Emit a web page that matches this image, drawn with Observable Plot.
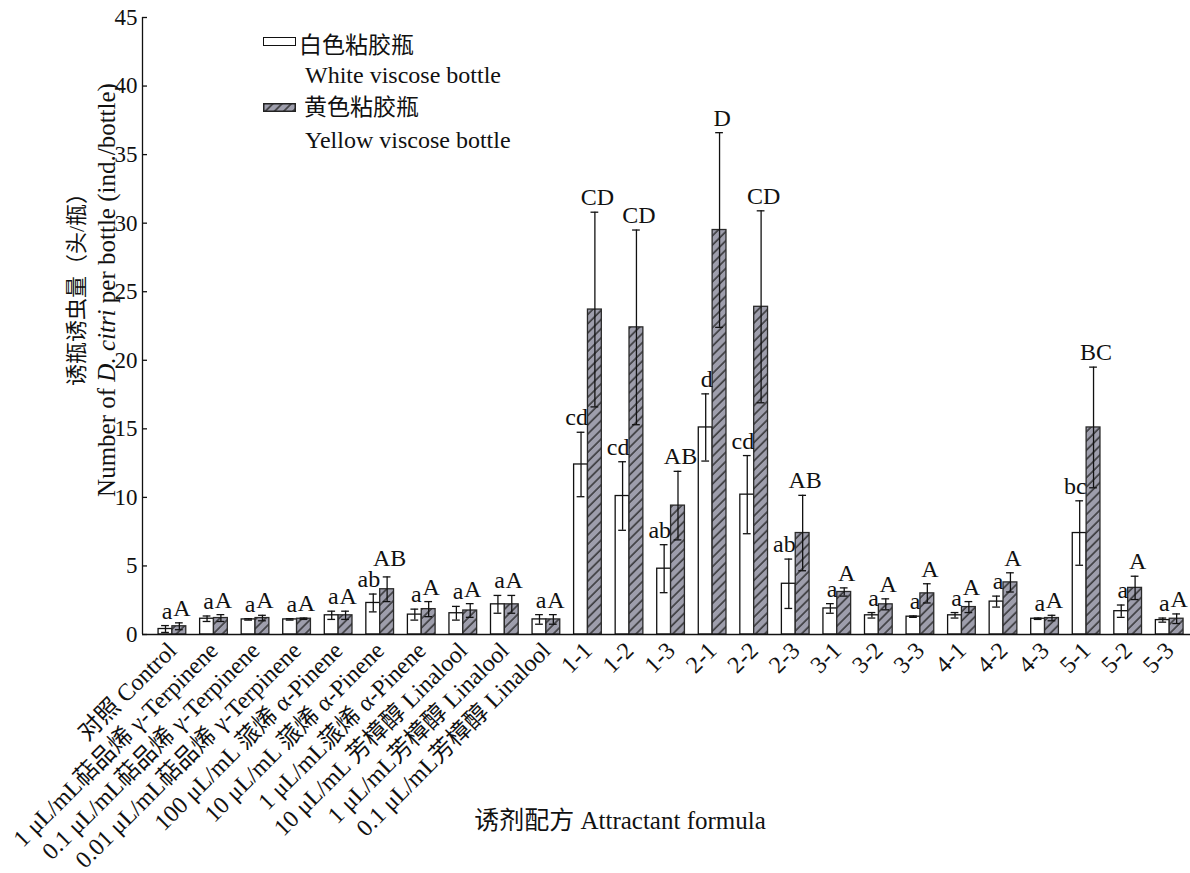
<!DOCTYPE html>
<html><head><meta charset="utf-8">
<script src="https://cdn.jsdelivr.net/npm/d3@7"></script>
<script src="https://cdn.jsdelivr.net/npm/@observablehq/plot@0.6"></script>
<style>
body{margin:0;background:#fff;overflow:hidden}
#wrap{position:relative;width:1190px;height:873px;font-family:"Liberation Serif","Noto Sans CJK SC",serif;color:#111}
.ov{position:absolute;white-space:nowrap;font-size:24px;line-height:1}
.rot{transform:translate(-50%,-50%) rotate(-90deg)}
</style></head><body><div id="wrap"></div>
<script>
const categories = [
  "对照 Control",
  "1 μL/mL萜品烯 γ-Terpinene",
  "0.1 μL/mL萜品烯 γ-Terpinene",
  "0.01 μL/mL萜品烯 γ-Terpinene",
  "100 μL/mL 蒎烯 α-Pinene",
  "10 μL/mL 蒎烯 α-Pinene",
  "1 μL/mL蒎烯 α-Pinene",
  "10 μL/mL 芳樟醇 Linalool",
  "1 μL/mL芳樟醇 Linalool",
  "0.1 μL/mL芳樟醇 Linalool",
  "1-1","1-2","1-3","2-1","2-2","2-3","3-1","3-2","3-3","4-1","4-2","4-3","5-1","5-2","5-3"
];
const whiteMean = [0.4,1.15,1.1,1.1,1.4,2.3,1.45,1.55,2.2,1.1,12.4,10.1,4.8,15.1,10.2,3.7,1.9,1.4,1.3,1.4,2.4,1.15,7.4,1.7,1.05];
const whiteSE   = [0.25,0.2,0.05,0.05,0.3,0.65,0.4,0.5,0.65,0.35,2.35,2.5,1.75,2.45,2.85,1.8,0.35,0.2,0.05,0.2,0.4,0.05,2.35,0.45,0.15];
const yellowMean = [0.6,1.2,1.2,1.15,1.4,3.3,1.85,1.75,2.2,1.1,23.7,22.4,9.4,29.5,23.9,7.4,3.1,2.2,3.0,2.0,3.8,1.2,15.1,3.4,1.15];
const yellowSE   = [0.25,0.25,0.2,0.05,0.3,0.9,0.55,0.5,0.65,0.35,7.1,7.1,2.5,7.1,7.0,2.75,0.3,0.4,0.7,0.4,0.7,0.2,4.4,0.85,0.35];
const whiteLetters  = ["a","a","a","a","a","ab","a","a","a","a","cd","cd","ab","d","cd","ab","a","a","a","a","a","a","bc","a","a"];
const yellowLetters = ["A","A","A","A","A","AB","A","A","A","A","CD","CD","AB","D","CD","AB","A","A","A","A","A","A","BC","A","A"];
const yTicks = [0,5,10,15,20,25,30,35,40,45];

// each group: white bar in [3i, 3i+1], yellow bar in [3i+1, 3i+2], one bar-width gap
const groupStride = 3;
const xDomain = [-1.16, 74.5];

const rows = categories.map((c,i)=>{
  const x0 = groupStride*i;
  const wTop = whiteMean[i] + whiteSE[i];
  const yTop = yellowMean[i] + yellowSE[i];
  return {cat:c, i, x0, wMean:whiteMean[i], wSE:whiteSE[i], yMean:yellowMean[i], ySE:yellowSE[i],
    wTop, yTop, wLetter:whiteLetters[i], yLetter:yellowLetters[i],
    // keep the upper-case label clear of a two-letter lower-case label next to it
    yLabelY: whiteLetters[i].length > 1 ? Math.max(yTop, wTop + 1.5) : yTop};
});

const font = '"Liberation Serif","Noto Sans CJK SC",serif';
const ink = "#111";
const svg = Plot.plot({
  width: 1190, height: 873,
  marginTop: 17, marginBottom: 239, marginLeft: 142, marginRight: 0,
  style: {fontFamily: font, fontSize: "22px", color: ink, background: "white", overflow: "visible"},
  x: {type: "linear", domain: xDomain, label: null},
  y: {domain: [0,45], label: null},
  marks: [
    Plot.rectY(rows, {x1: d=>d.x0, x2: d=>d.x0+1, y: "wMean", fill:"white", stroke: ink, strokeWidth:1.3}),
    Plot.rectY(rows, {x1: d=>d.x0+1, x2: d=>d.x0+2, y: "yMean", fill:"url(#hatch)", stroke:"#2a2a2a", strokeWidth:1.3}),
    // error bars
    Plot.ruleX(rows, {x: d=>d.x0+0.5, y1: d=>d.wMean-d.wSE, y2: "wTop", stroke: ink, strokeWidth:1.3}),
    Plot.ruleX(rows, {x: d=>d.x0+1.5, y1: d=>d.yMean-d.ySE, y2: "yTop", stroke: ink, strokeWidth:1.3}),
    Plot.ruleY(rows, {x1: d=>d.x0+0.22, x2: d=>d.x0+0.78, y: "wTop", stroke: ink, strokeWidth:1.3}),
    Plot.ruleY(rows, {x1: d=>d.x0+0.22, x2: d=>d.x0+0.78, y: d=>d.wMean-d.wSE, stroke: ink, strokeWidth:1.3}),
    Plot.ruleY(rows, {x1: d=>d.x0+1.22, x2: d=>d.x0+1.78, y: "yTop", stroke: ink, strokeWidth:1.3}),
    Plot.ruleY(rows, {x1: d=>d.x0+1.22, x2: d=>d.x0+1.78, y: d=>d.yMean-d.ySE, stroke: ink, strokeWidth:1.3}),
    // significance letters
    Plot.text(rows, {x: d=>d.x0+1, y: "wTop", text:"wLetter", textAnchor:"end", dy:-7, lineAnchor:"bottom", fontSize:24, fill: ink}),
    Plot.text(rows, {x: d=>d.x0+1.5, y: "yLabelY", text:"yLetter", textAnchor:"middle", dx:2.5, dy:-7, lineAnchor:"bottom", fontSize:24, fill: ink}),
    // axes
    Plot.ruleY([0], {stroke: ink, strokeWidth: 1.5}),
    Plot.ruleX([xDomain[0]], {stroke: ink, strokeWidth: 1.3}),
    Plot.axisY({ticks: yTicks, tickSize: -5, tickPadding: 10, label: null, fontSize: 23, strokeWidth: 1.3}),
    Plot.axisX({ticks: categories.map((c,i)=>groupStride*i+1), tickFormat: v => categories[Math.round((v-1)/groupStride)],
      tickRotate: -45, tickSize: 0, tickPadding: 12, label: null, fontSize: 24})
  ]
});

const sel = d3.select(svg);
const defs = sel.insert("defs", ":first-child");
const pat = defs.append("pattern").attr("id","hatch").attr("patternUnits","userSpaceOnUse")
  .attr("width",6.5).attr("height",6.5).attr("patternTransform","rotate(45)");
pat.append("rect").attr("width",6.5).attr("height",6.5).attr("fill","#9e9eac");
pat.append("line").attr("x1",1).attr("y1",0).attr("x2",1).attr("y2",6.5).attr("stroke","#262626").attr("stroke-width",1.35);

const wrap = document.getElementById("wrap");
wrap.appendChild(svg);
svg.style.position = "absolute"; svg.style.left = "0"; svg.style.top = "0";

function ov(html, left, top, extra, size) {
  const d = document.createElement("div");
  d.className = "ov" + (extra ? " " + extra : "");
  d.innerHTML = html;
  d.style.left = left + "px"; d.style.top = top + "px";
  if (size) d.style.fontSize = size + "px";
  wrap.appendChild(d);
  return d;
}
// legend
const sw1 = ov("", 263, 37); sw1.style.width="33px"; sw1.style.height="9px"; sw1.style.border="1.5px solid #111"; sw1.style.boxSizing="border-box"; sw1.style.background="#fff";
ov("白色粘胶瓶", 299, 34, "", 23);
ov("White viscose bottle", 305, 63);
ov('<svg width="33" height="9" style="display:block"><rect x="0.75" y="0.75" width="31.5" height="7.5" fill="url(#hatch)" stroke="#222" stroke-width="1.5"/></svg>', 263, 103);
ov("黄色粘胶瓶", 304, 96, "", 23);
ov("Yellow viscose bottle", 305, 128);
// axis titles
ov("诱瓶诱虫量（头/瓶）", 77, 284, "rot", 22);
ov('Number of <i>D. citri</i> per bottle (ind./bottle)', 106, 290, "rot", 25);
const xt = ov("诱剂配方 Attractant formula", 620, 820, "", 25);
xt.style.transform = "translate(-50%,-50%)";
</script></body></html>
